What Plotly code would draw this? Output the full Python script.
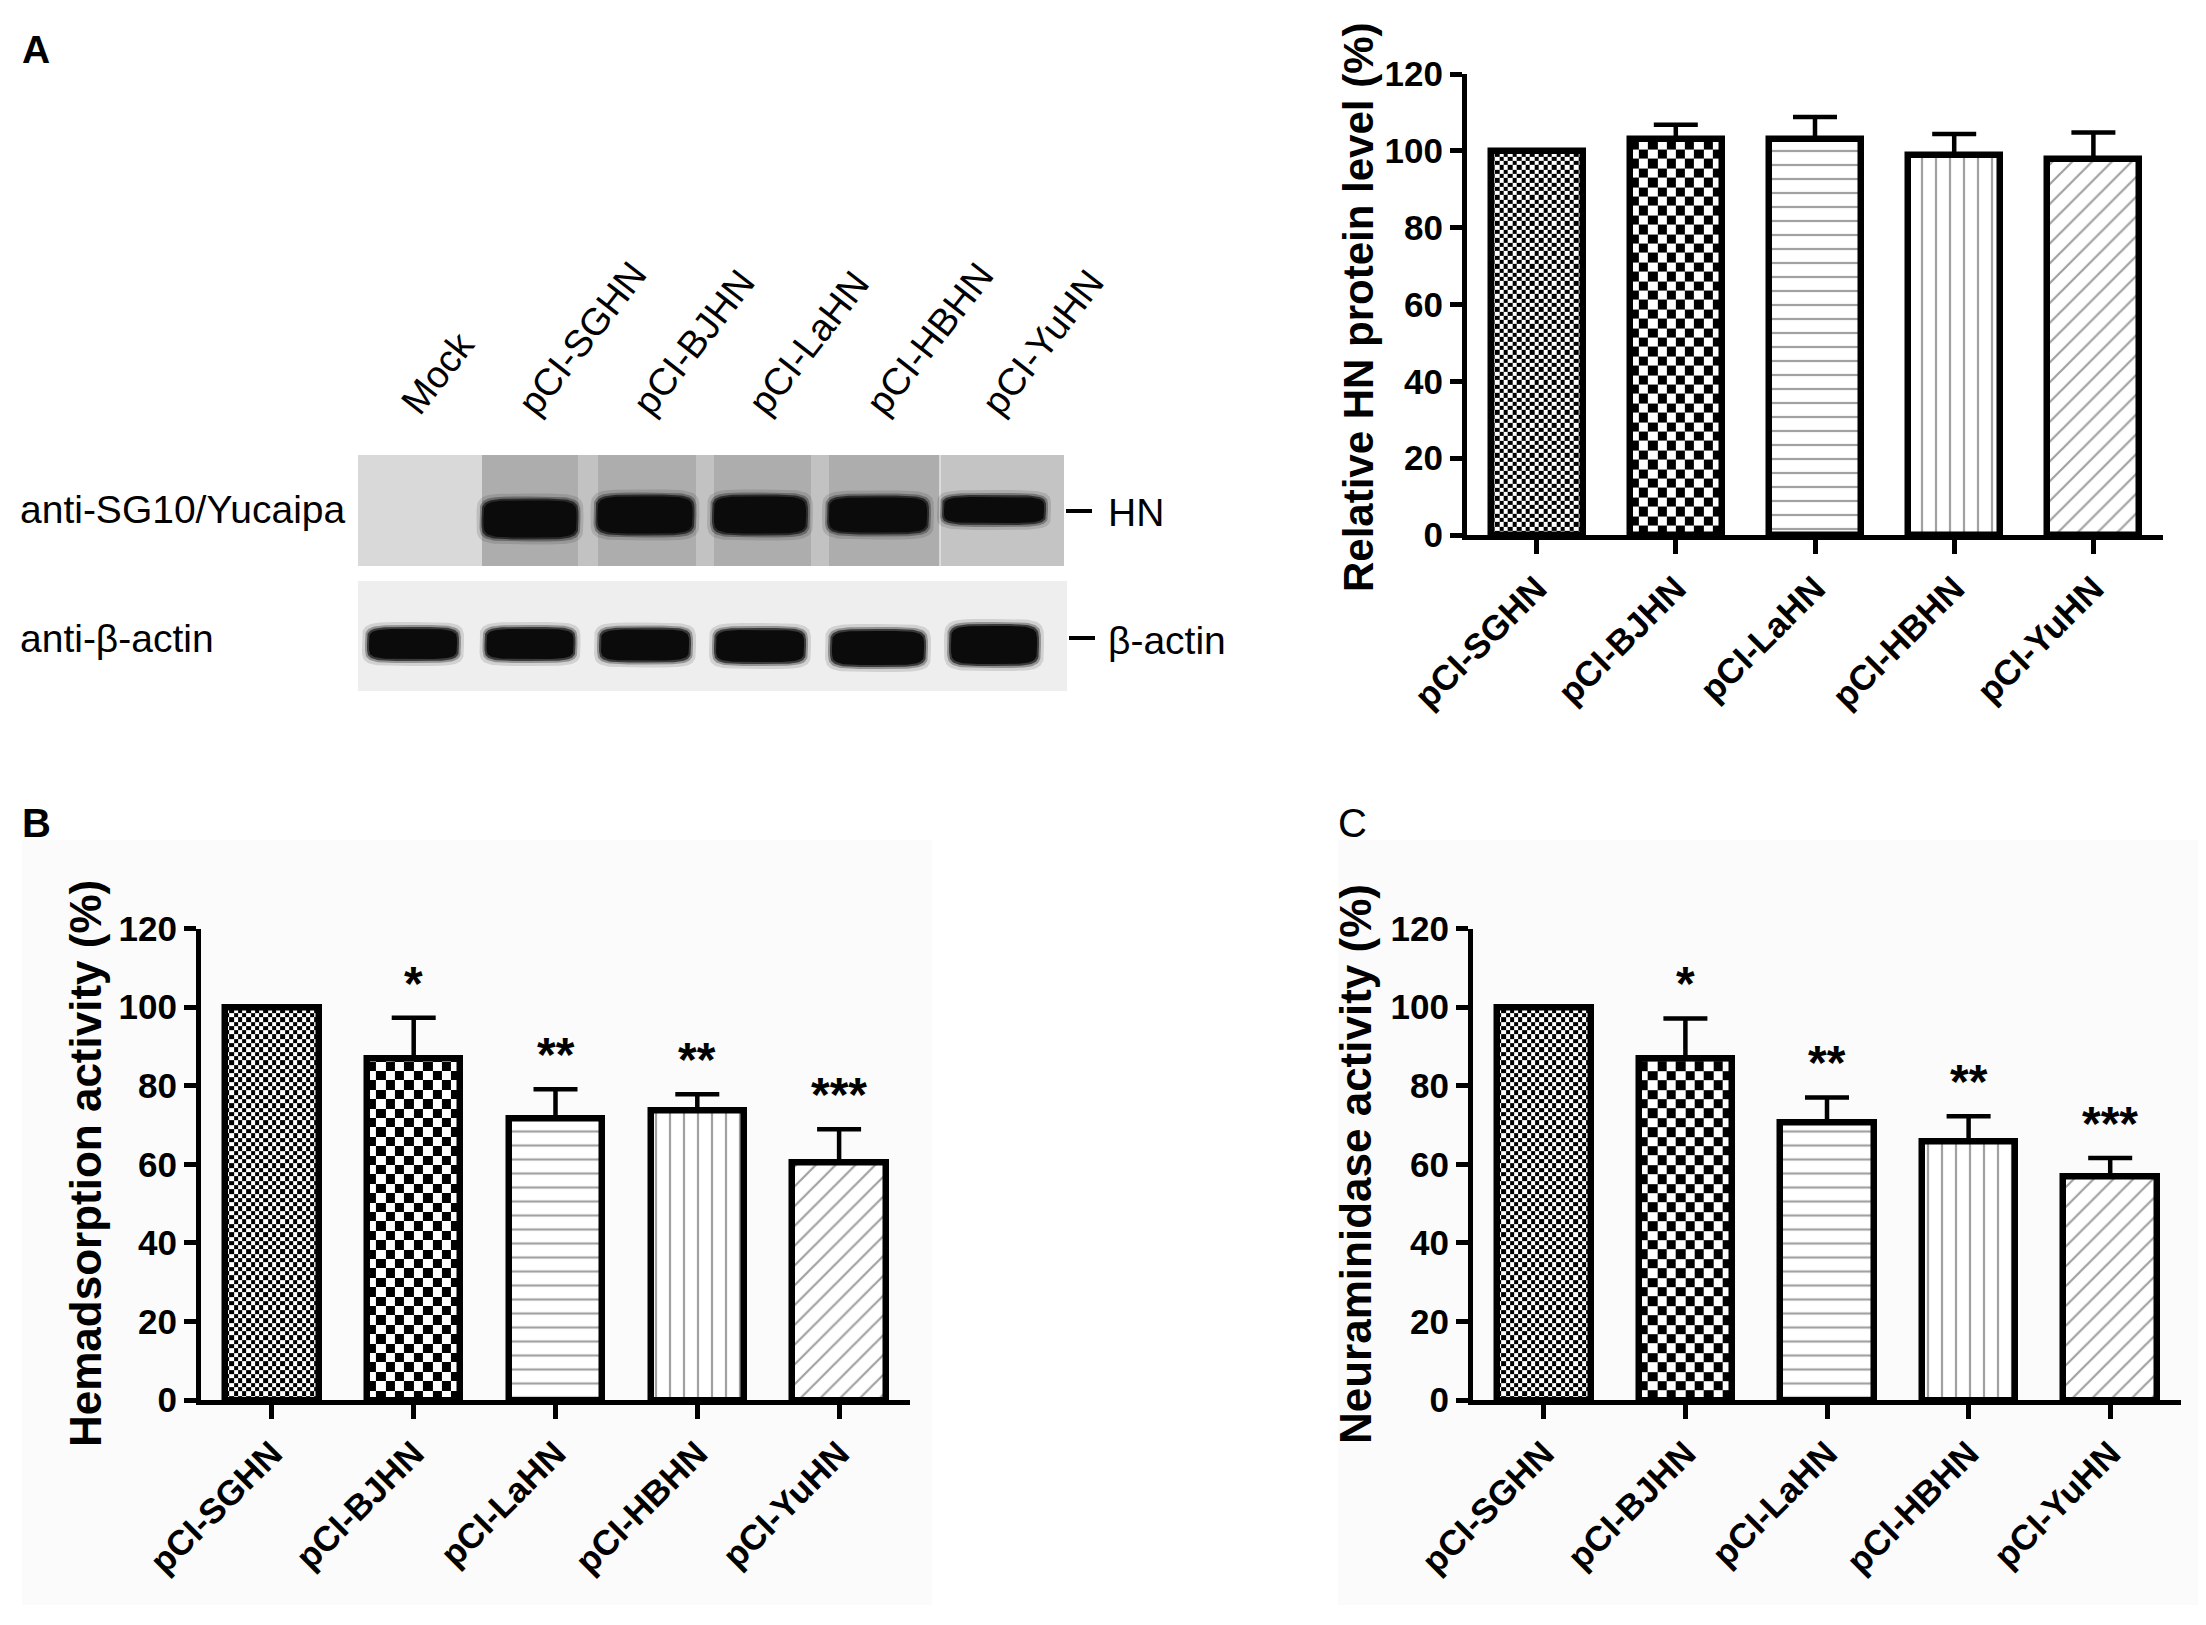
import math
import plotly.graph_objects as go

W, H = 2206, 1625
OFF = 8  # default page margin of the html body
FONT = "Liberation Sans, Arial, sans-serif"

# ---- data -------------------------------------------------------------
labels = ['pCI-SGHN', 'pCI-BJHN', 'pCI-LaHN', 'pCI-HBHN', 'pCI-YuHN']
pos = [0, 1, 2, 3, 4]
yticks = [0, 20, 40, 60, 80, 100, 120]

# A  relative HN protein level (%)
a_mean = [100, 103.2, 103.0, 99.0, 97.9]
a_err = [0, 3.6, 5.8, 5.4, 6.9]
a_sig = ['', '', '', '', '']

# B  hemadsorption activity (%)
b_mean = [100, 86.8, 71.6, 73.6, 60.4]
b_err = [0, 10.5, 7.5, 4.2, 8.5]
b_sig = ['', '*', '**', '**', '***']

# C  neuraminidase activity (%)
c_mean = [100, 87.0, 70.6, 65.7, 56.8]
c_err = [0, 10.1, 6.4, 6.5, 4.8]
c_sig = ['', '*', '**', '**', '***']

# western blot (lane centres and band sizes, blot pixel units)
lanes = ['Mock', 'pCI-SGHN', 'pCI-BJHN', 'pCI-LaHN', 'pCI-HBHN', 'pCI-YuHN']
lane_x = [413, 530, 645, 760, 878, 994]
hn_w = [0, 93, 95, 92, 98, 100]
hn_h = [0, 37, 37, 37, 35, 26]
hn_y = [0, 519, 515, 515, 515, 510]
actin_w = [88, 87, 88, 88, 92, 86]
actin_h = [30, 30, 31, 32, 34, 38]
actin_y = [644, 644, 645, 646, 648, 645]


def px(x):
    return (x - OFF) / W


def py(y):
    return 1 - (y - OFF) / H


fig = go.Figure()

panels = [
    dict(xa='x', ya='y', xd=[1467, 2163], yd=[535, 74], mean=a_mean, err=a_err, sig=a_sig,
         title='Relative HN protein level (%)', tx=1358, ty=308, ts=42),
    dict(xa='x2', ya='y2', xd=[201, 910], yd=[1400, 928.5], mean=b_mean, err=b_err, sig=b_sig,
         title='Hemadsorption activity (%)', tx=85, ty=1164, ts=44),
    dict(xa='x3', ya='y3', xd=[1473, 2181], yd=[1400, 928.5], mean=c_mean, err=c_err, sig=c_sig,
         title='Neuraminidase activity (%)', tx=1355, ty=1164, ts=44),
]

BW = 0.66


def checker(xc, top, cell, ppx, ppy, xa, ya):
    nx = max(1, round(BW * ppx / cell))
    dx = BW / nx
    xe = [xc - BW / 2 + i * dx for i in range(nx + 1)]
    dy = cell / ppy
    ye = []
    v = 0.0
    while v < top:
        ye.append(v)
        v += dy
    ye.append(top)
    z = [[(i + j) % 2 for i in range(nx)] for j in range(len(ye) - 1)]
    return go.Heatmap(x=xe, y=ye, z=z, colorscale=[[0, 'white'], [1, 'black']],
                      zmin=0, zmax=1, showscale=False, hoverinfo='skip',
                      xaxis=xa, yaxis=ya)


tick_font = dict(family=FONT, size=35, color='black', weight='bold')
annotations = []
for i, p in enumerate(panels):
    sfx = '' if i == 0 else str(i + 1)
    ppx = (p['xd'][1] - p['xd'][0]) / 5
    ppy = (p['yd'][0] - p['yd'][1]) / 120
    # checkerboard fills for the first two bars
    fig.add_trace(checker(pos[0], p['mean'][0], 4.3, ppx, ppy, p['xa'], p['ya']))
    fig.add_trace(checker(pos[1], p['mean'][1], 9.4, ppx, ppy, p['xa'], p['ya']))
    fig.add_trace(go.Bar(
        x=pos, y=p['mean'], width=BW, xaxis=p['xa'], yaxis=p['ya'],
        marker=dict(color=['rgba(0,0,0,0)'] * 2 + ['white'] * 3,
                    line=dict(color='black', width=6.5),
                    pattern=dict(shape=['', '', '-', '|', '/'], size=14, solidity=0.16,
                                 fgcolor='black', fillmode='overlay')),
        error_y=dict(type='data', array=p['err'], arrayminus=[0] * 5, symmetric=False,
                     color='black', thickness=4.5, width=22),
        showlegend=False, hoverinfo='skip'))

    fig.update_layout(**{
        'xaxis' + sfx: dict(domain=[px(p['xd'][0]), px(p['xd'][1])], range=[-0.5, 4.5],
                            anchor='y' + sfx, tickvals=pos, ticktext=labels, tickangle=-45,
                            showline=True, linecolor='black', linewidth=5, automargin=False,
                            ticks='outside', ticklen=14, tickwidth=4.5, tickcolor='black',
                            showgrid=False, zeroline=False, tickfont=tick_font),
        'yaxis' + sfx: dict(domain=[py(p['yd'][0]), py(p['yd'][1])], range=[0, 120],
                            anchor='x' + sfx, tickvals=yticks, automargin=False,
                            showline=True, linecolor='black', linewidth=5,
                            ticks='outside', ticklen=12, tickwidth=4.5, tickcolor='black',
                            showgrid=False, zeroline=False, tickfont=tick_font),
    })
    annotations.append(dict(text=p['title'], xref='paper', yref='paper',
                            x=px(p['tx']), y=py(p['ty']),
                            textangle=-90, showarrow=False, xanchor='center', yanchor='middle',
                            font=dict(family=FONT, size=p['ts'], color='black', weight='bold')))
    for k in range(5):
        if p['sig'][k]:
            annotations.append(dict(text=p['sig'][k], xref=p['xa'], yref=p['ya'],
                                    x=pos[k], y=p['mean'][k] + p['err'][k] + 8.8,
                                    showarrow=False, xanchor='center', yanchor='middle',
                                    font=dict(family=FONT, size=48, color='black', weight='bold')))


# ---- western blot ------------------------------------------------------
def band(xc, yc, w, h, n=5, grow=0.0, m=80):
    xs, ys = [], []
    a, b = w / 2 + grow, h / 2 + grow
    for k in range(m + 1):
        t = 2 * math.pi * k / m
        c, s = math.cos(t), math.sin(t)
        xs.append(xc + a * math.copysign(abs(c) ** (2 / n), c))
        ys.append(yc + b * math.copysign(abs(s) ** (2 / n), s))
    return xs, ys


for row in [(hn_w, hn_h, hn_y), (actin_w, actin_h, actin_y)]:
    ws, hs, ys_ = row
    for k in range(6):
        if ws[k] == 0:
            continue
        for grow, col in [(7, 'rgba(0,0,0,0.12)'), (4, 'rgba(0,0,0,0.3)'),
                          (2, 'rgba(0,0,0,0.6)'), (0, '#0b0b0b')]:
            bx, by = band(lane_x[k], ys_[k], ws[k], hs[k], grow=grow)
            fig.add_trace(go.Scatter(x=bx, y=by, mode='lines', fill='toself', fillcolor=col,
                                     line=dict(width=0), xaxis='x4', yaxis='y4',
                                     showlegend=False, hoverinfo='skip'))

fig.update_layout(
    xaxis4=dict(domain=[px(358), px(1067)], range=[358, 1067], visible=False, anchor='y4',
                automargin=False),
    yaxis4=dict(domain=[py(691), py(455)], range=[691, 455], visible=False, anchor='x4',
                automargin=False),
)

shapes = [
    # light panel backgrounds
    dict(type='rect', xref='paper', yref='paper', x0=px(22), x1=px(932), y0=py(1605), y1=py(840),
         fillcolor='#fbfbfb', line=dict(width=0), layer='below'),
    dict(type='rect', xref='paper', yref='paper', x0=px(1338), x1=px(2206), y0=py(1605), y1=py(840),
         fillcolor='#fbfbfb', line=dict(width=0), layer='below'),
    # HN blot background
    dict(type='rect', xref='x4', yref='y4', x0=358, x1=482, y0=455, y1=566,
         fillcolor='#d9d9d9', line=dict(width=0), layer='below'),
    dict(type='rect', xref='x4', yref='y4', x0=482, x1=940, y0=455, y1=566,
         fillcolor='#adadad', line=dict(width=0), layer='below'),
    dict(type='rect', xref='x4', yref='y4', x0=578, x1=598, y0=455, y1=566,
         fillcolor='#c2c2c2', line=dict(width=0), layer='below'),
    dict(type='rect', xref='x4', yref='y4', x0=696, x1=714, y0=455, y1=566,
         fillcolor='#c2c2c2', line=dict(width=0), layer='below'),
    dict(type='rect', xref='x4', yref='y4', x0=811, x1=829, y0=455, y1=566,
         fillcolor='#c2c2c2', line=dict(width=0), layer='below'),
    dict(type='rect', xref='x4', yref='y4', x0=940, x1=1064, y0=455, y1=566,
         fillcolor='#c4c4c4', line=dict(width=0), layer='below'),
    dict(type='line', xref='x4', yref='y4', x0=940, x1=940, y0=455, y1=566,
         line=dict(color='#e6e6e6', width=1.5), layer='below'),
    # actin blot background
    dict(type='rect', xref='x4', yref='y4', x0=358, x1=1067, y0=581, y1=691,
         fillcolor='#eeeeee', line=dict(width=0), layer='below'),
    # marker dashes
    dict(type='line', xref='paper', yref='paper', x0=px(1066), x1=px(1092), y0=py(511), y1=py(511),
         line=dict(color='black', width=4)),
    dict(type='line', xref='paper', yref='paper', x0=px(1069), x1=px(1095), y0=py(638), y1=py(638),
         line=dict(color='black', width=4)),
]

blot_font = dict(family=FONT, size=39, color='black')
lane_font = dict(family=FONT, size=38, color='black')
for k, name in enumerate(lanes):
    annotations.append(dict(text=name, xref='x4', yref='paper', x=lane_x[k] - 23, y=py(425),
                            textangle=-52, showarrow=False, xanchor='left', yanchor='bottom',
                            font=lane_font))
annotations += [
    dict(text='anti-SG10/Yucaipa', xref='paper', yref='paper', x=px(18), y=py(510),
         showarrow=False, xanchor='left', yanchor='middle', font=blot_font),
    dict(text='anti-β-actin', xref='paper', yref='paper', x=px(18), y=py(638),
         showarrow=False, xanchor='left', yanchor='middle', font=blot_font),
    dict(text='HN', xref='paper', yref='paper', x=px(1106), y=py(512),
         showarrow=False, xanchor='left', yanchor='middle', font=blot_font),
    dict(text='β-actin', xref='paper', yref='paper', x=px(1106), y=py(640),
         showarrow=False, xanchor='left', yanchor='middle', font=blot_font),
    # panel letters
    dict(text='A', xref='paper', yref='paper', x=px(20), y=py(26), showarrow=False,
         xanchor='left', yanchor='top', font=dict(family=FONT, size=39, color='black', weight='bold')),
    dict(text='B', xref='paper', yref='paper', x=px(20), y=py(799), showarrow=False,
         xanchor='left', yanchor='top', font=dict(family=FONT, size=40, color='black', weight='bold')),
    dict(text='C', xref='paper', yref='paper', x=px(1336), y=py(799), showarrow=False,
         xanchor='left', yanchor='top', font=dict(family=FONT, size=40, color='black')),
]

fig.update_layout(
    template='none',
    width=W, height=H, margin=dict(l=0, r=0, t=0, b=0, pad=0, autoexpand=False),
    paper_bgcolor='white', plot_bgcolor='rgba(0,0,0,0)',
    showlegend=False, bargap=0,
    shapes=shapes, annotations=annotations,
    font=dict(family=FONT, color='black'),
)

fig.write_html("out.html")
